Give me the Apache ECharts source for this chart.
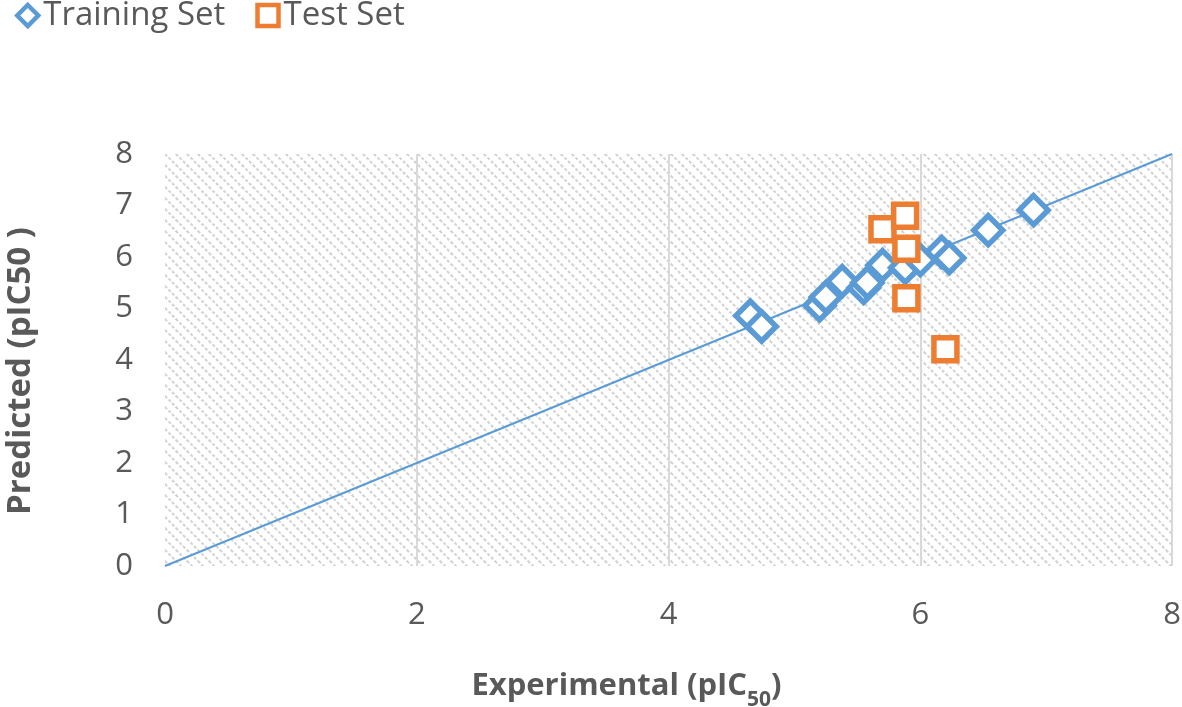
<!DOCTYPE html>
<html>
<head>
<meta charset="utf-8">
<script src="https://cdn.jsdelivr.net/npm/echarts@6/dist/echarts.min.js"></script>
<style>html,body{margin:0;padding:0;background:#fff}#c{width:1182px;height:707px}</style>
</head>
<body>
<div id="c"></div>
<script>
// Data
const seriesNames = ['Training Set', 'Test Set'];
const trainingX = [4.65, 4.74, 5.20, 5.25, 5.38, 5.55, 5.58, 5.70, 5.88, 6.00, 6.17, 6.23, 6.54, 6.90];
const trainingY = [4.86, 4.65, 5.06, 5.22, 5.53, 5.40, 5.50, 5.84, 5.79, 5.94, 6.10, 5.98, 6.52, 6.91];
const testX = [5.70, 5.88, 5.89, 5.89, 6.20];
const testY = [6.54, 6.80, 6.16, 5.20, 4.21];
const idealLine = [[0, 0], [8, 8]];

const training = trainingX.map((x, i) => [x, trainingY[i]]);
const test = testX.map((x, i) => [x, testY[i]]);

// hatched background pattern
const P = 11;
const pc = document.createElement('canvas');
pc.width = P; pc.height = P;
const g = pc.getContext('2d');
g.fillStyle = '#ffffff'; g.fillRect(0, 0, P, P);
g.strokeStyle = '#d2d2d2'; g.lineWidth = 2;
g.setLineDash([3, 2]);
g.beginPath();
g.moveTo(0, 0); g.lineTo(P, P);
g.stroke();
g.setLineDash([]);
g.beginPath();
g.moveTo(-2, P - 2); g.lineTo(2, P + 2);
g.moveTo(P - 2, -2); g.lineTo(P + 2, 2);
g.stroke();

const font = '"Open Sans", sans-serif';
const txt = '#595959';

const chart = echarts.init(document.getElementById('c'), null, {renderer: 'canvas'});
chart.setOption({
  animation: false,
  legend: {
    left: 10, top: -6,
    itemWidth: 21, itemHeight: 21, itemGap: 30,
    data: [
      {name: seriesNames[0], itemStyle: {color: '#ffffff', borderColor: '#5B9BD5', borderWidth: 4.5}},
      {name: seriesNames[1], itemStyle: {color: '#ffffff', borderColor: '#ED7D31', borderWidth: 4.5}}
    ],
    textStyle: {fontFamily: font, fontSize: 33, color: txt}
  },
  grid: {
    left: 165, right: 10, top: 154, bottom: 141,
    outerBoundsMode: 'none', containLabel: false,
    show: true, borderWidth: 0,
    backgroundColor: {image: pc, repeat: 'repeat'}
  },
  xAxis: {
    type: 'value', min: 0, max: 8, interval: 2,
    name: '{m|Experimental (pIC}{sub|50}{m|)}',
    nameLocation: 'middle', nameGap: 105,
    nameTextStyle: {
      fontFamily: font, fontSize: 31, fontWeight: 'bold', color: txt,
      padding: [0, 84, 0, 0],
      rich: {
        m: {fontFamily: font, fontSize: 31, fontWeight: 'bold', color: txt, verticalAlign: 'top', lineHeight: 40},
        sub: {fontFamily: font, fontSize: 21, fontWeight: 'bold', color: txt, verticalAlign: 'bottom', lineHeight: 20}
      }
    },
    axisLine: {show: false}, axisTick: {show: false},
    axisLabel: {fontFamily: font, fontSize: 31, color: txt, margin: 34},
    splitLine: {show: true, showMinLine: false, lineStyle: {color: '#d9d9d9', width: 2}}
  },
  yAxis: {
    type: 'value', min: 0, max: 8, interval: 1,
    name: 'Predicted (pIC50 )',
    nameLocation: 'middle', nameGap: 128,
    nameTextStyle: {fontFamily: font, fontSize: 33, fontWeight: 'bold', color: txt, padding: [0, 22, 0, 0]},
    axisLine: {show: false}, axisTick: {show: false},
    axisLabel: {fontFamily: font, fontSize: 31, color: txt, margin: 32},
    splitLine: {show: false}
  },
  series: [
    {
      name: 'line', type: 'line', data: idealLine, showSymbol: false, symbol: 'none',
      lineStyle: {color: '#5B9BD5', width: 2}, silent: true, z: 1
    },
    {
      name: seriesNames[0], type: 'scatter', data: training,
      symbol: 'diamond', symbolSize: 29,
      itemStyle: {color: '#ffffff', borderColor: '#5B9BD5', borderWidth: 5.5, opacity: 1},
      z: 2
    },
    {
      name: seriesNames[1], type: 'scatter', data: test,
      symbol: 'rect', symbolSize: 23,
      itemStyle: {color: '#ffffff', borderColor: '#ED7D31', borderWidth: 5.5, opacity: 1},
      z: 3
    }
  ]
});
</script>
</body>
</html>
